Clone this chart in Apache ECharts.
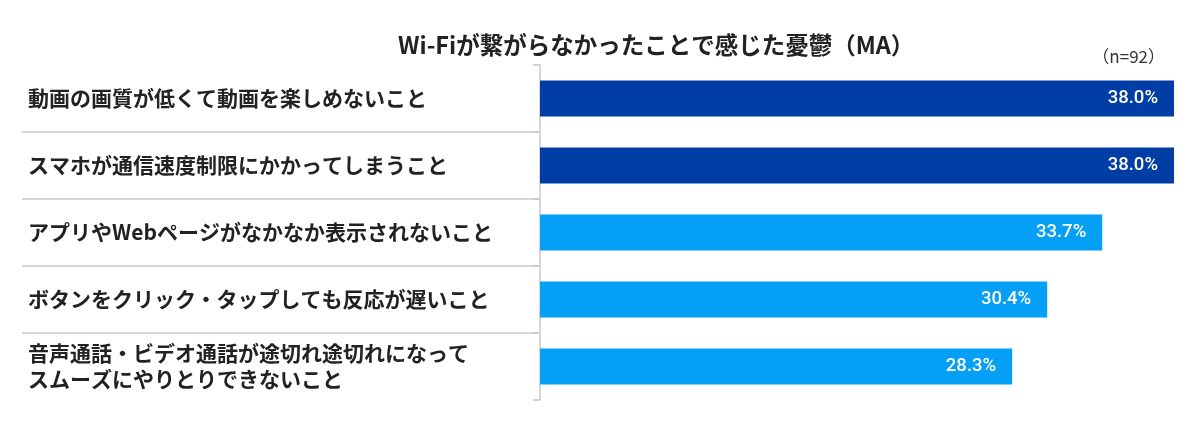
<!DOCTYPE html>
<html>
<head>
<meta charset="utf-8">
<script src="https://cdn.jsdelivr.net/npm/echarts@6/dist/echarts.min.js"></script>
<style>
html,body{margin:0;padding:0;background:#fff;}
#main{width:1200px;height:432px;}
</style>
</head>
<body>
<div id="main"></div>
<script>
// 項目
var categories = [
    '動画の画質が低くて動画を楽しめないこと',
    'スマホが通信速度制限にかかってしまうこと',
    'アプリやWebページがなかなか表示されないこと',
    'ボタンをクリック・タップしても反応が遅いこと',
    '音声通話・ビデオ通話が途切れ途切れになって\nスムーズにやりとりできないこと'
];
// 割合(%)
var values = [38.0, 38.0, 33.7, 30.4, 28.3];
var titleText = 'Wi-Fiが繋がらなかったことで感じた憂鬱（MA）';
var sampleText = '（n=92）';

var option = {
    animation: false,
    title: [
        {
            text: titleText,
            left: 393,
            top: 28,
            textStyle: {
                fontFamily: 'Noto Sans CJK JP',
                fontSize: 23.5,
                fontWeight: 'bold',
                color: '#222'
            }
        },
        {
            text: sampleText,
            right: 30,
            top: 43,
            textStyle: {
                fontFamily: 'Noto Sans CJK JP',
                fontSize: 17,
                fontWeight: 'normal',
                color: '#333'
            }
        }
    ],
    grid: [
        {   // 棒グラフ
            left: 540,
            right: 26,
            top: 65,
            bottom: 32
        },
        {   // 左側の区切り線
            left: 22,
            right: 661,
            top: 65,
            bottom: 32
        }
    ],
    xAxis: [
        {
            type: 'value',
            min: 0,
            max: 38,
            show: false
        },
        {
            gridIndex: 1,
            type: 'value',
            min: 0,
            max: 1,
            show: false
        }
    ],
    yAxis: [
        {
            type: 'category',
            data: categories,
            inverse: true,
            axisLine: {
                show: true,
                lineStyle: {color: '#c8c8c8', width: 1.5}
            },
            axisTick: {
                show: true,
                length: 7,
                lineStyle: {color: '#c8c8c8', width: 1.5}
            },
            axisLabel: {
                align: 'left',
                margin: 512,
                fontFamily: 'Noto Sans CJK JP',
                fontSize: 21,
                fontWeight: 'bold',
                color: '#222',
                lineHeight: 26
            },
            splitLine: {show: false}
        },
        {
            gridIndex: 1,
            type: 'category',
            data: categories,
            inverse: true,
            axisLine: {show: false},
            axisTick: {show: false},
            axisLabel: {show: false},
            splitLine: {
                show: true,
                showMinLine: false,
                showMaxLine: false,
                lineStyle: {color: '#c8c8c8', width: 1.5}
            }
        }
    ],
    series: [
        {
            name: '割合',
            type: 'bar',
            data: values,
            barWidth: 36,
            itemStyle: {
                color: function (p) {
                    return p.dataIndex < 2 ? '#003da5' : '#05a0f5';
                }
            },
            label: {
                show: true,
                position: 'insideRight',
                distance: 16,
                color: '#fff',
                fontFamily: 'Roboto',
                fontSize: 18.5,
                fontWeight: 500,
                formatter: function (p) {
                    return p.value.toFixed(1) + '%';
                }
            }
        }
    ]
};

echarts.init(document.getElementById('main')).setOption(option);
</script>
</body>
</html>
